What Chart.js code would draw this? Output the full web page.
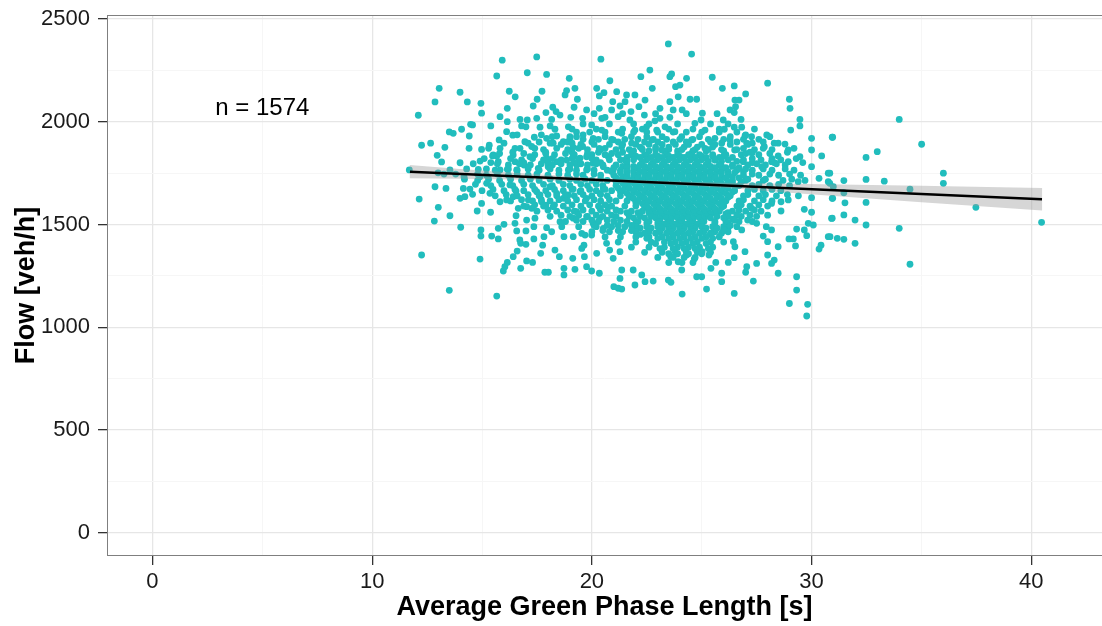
<!DOCTYPE html>
<html><head><meta charset="utf-8">
<script src="https://cdn.jsdelivr.net/npm/chart.js@4.4.1/dist/chart.umd.min.js"></script>
<style>html,body{margin:0;padding:0;background:#fff;}canvas{display:block;}</style>
</head><body>
<canvas id="c" width="1102" height="626"></canvas>
<script>
// ---------- data ----------
const xTickValues = [0,5,10,15,20,25,30,35,40];
const yTickValues = [0,250,500,750,1000,1250,1500,1750,2000,2250,2500];
const xTitle = 'Average Green Phase Length [s]';
const yTitle = 'Flow [veh/h]';
const nLabel = 'n = 1574';
const nLabelGreen = 5;
const nLabelFlow = 2065;

// individually read points [green, flow]
const loosePoints = [
[11.69,1766],[12.10,2032],[12.25,1886],[12.66,1896],[12.86,2097],[13.05,2163],[12.96,1837],[13.16,1805],[13.31,1876],[13.51,1951],[13.69,1944],[14.0,2144],[14.07,1964],[14.33,2097],[14.42,1931],[14.41,1871],[14.48,1988],[14.57,1985],[14.0,1801],[14.95,2090],[14.98,2042],[14.91,1809],[14.98,1866],[15.33,1886],[15.67,2223],[15.92,2300],[15.82,2025],[15.78,1912],[15.67,1834],[16.15,2066],[16.24,2149],[16.51,2122],[16.15,2001],[16.12,1952],[16.40,1935],[16.73,2012],[17.06,2239],[17.49,2316],[17.94,2231],[17.73,2149],[17.51,2110],[17.33,2077],[17.06,2009],[17.0,1976],[17.49,2017],[17.64,1974],[17.91,2045],[17.38,1925],[16.95,1903],[16.73,1871],[16.42,1839],[15.82,1871],[15.51,1839],[18.22,2071],[18.32,1964],[17.94,1920],[18.24,1896],[18.40,1931],[18.55,2033],[18.78,2131],[18.85,2152],[18.97,2212],[19.23,2163],[19.34,2110],[19.19,2071],[19.04,2022],[18.93,1976],[19.0,1928],[18.70,1903],[19.15,1876],[19.58,2017],[19.76,2058],[19.58,1880],[19.46,1823],[19.99,1985],[20.22,2163],[20.41,2305],[20.34,2126],[20.34,2066],[20.55,2142],[20.82,2200],[20.95,2098],[20.45,2017],[20.60,2022],[20.90,2058],[20.45,1960],[20.06,1920],[20.34,1871],[20.97,1912],[18.17,2012],[18.37,2050],[16.50,1806],
[13.0,1752],[13.27,1746],[13.54,1766],[14.18,1733],[14.83,1769],[14.9,1733],[15.48,1834],[15.74,1806],[15.82,1766],[16.15,1769],[16.58,1766],[16.91,1790],[17.18,1830],[17.56,1774],[18.01,1782],[18.40,1806],[18.85,1814],[18.93,1766],[19.31,1790],[19.76,1766],[20.06,1798],[20.52,1782],[20.97,1766],[20.75,1830],[19.76,1830],[19.15,1830],[17.26,1880],[17.94,1823],
[12.86,1684],[13.36,1676],[12.14,1624],[13.01,1584],[12.83,1517],[13.54,1543],[14.03,1487],[14.0,1628],[14.22,1636],[14.15,1676],[14.45,1673],[14.57,1647],[14.98,1603],[14.78,1566],[14.95,1474],[14.95,1444],[12.25,1352],[14.91,1332],[13.51,1180],[15.67,1152],[15.21,1701],[15.36,1652],[15.39,1560],[15.44,1444],[15.74,1430],[15.74,1482],[16.0,1501],[15.82,1611],[16.12,1620],[16.42,1636],[16.27,1693],[16.65,1579],[16.55,1543],[16.50,1506],[16.58,1469],[16.72,1425],[16.76,1409],[17.0,1404],[16.60,1371],[16.42,1344],[16.15,1316],[16.04,1295],[15.97,1274],[16.76,1287],[17.03,1323],[17.30,1316],[17.03,1587],[17.11,1620],[17.26,1579],[17.03,1522],[17.0,1469],[17.41,1531],[17.36,1490],[17.36,1430],[17.49,1660],[17.64,1644],[17.82,1441],[17.76,1400],[17.67,1360],[17.86,1268],[18.02,1268],[17.91,1595],[18.24,1587],[17.94,1485],[18.17,1465],[18.32,1376],[18.52,1344],[18.73,1287],[18.73,1255],[18.40,1652],[18.70,1628],[18.93,1644],[18.55,1514],[18.63,1490],[18.73,1441],[19.15,1441],[19.13,1336],[19.23,1282],[19.64,1400],[19.54,1384],[19.66,1344],[19.76,1295],[19.99,1274],[20.34,1263],[19.15,1531],[19.31,1563],[19.76,1538],[19.54,1457],[19.69,1449],[19.99,1449],[20.06,1506],[20.37,1533],[20.52,1482],[20.67,1409],[20.81,1376],[20.97,1336],[21.0,1198],[21.20,1190],[20.22,1360],[20.37,1579],[19.76,1628],[19.46,1660],[20.37,1652],[20.75,1587],[20.52,1676],[17.71,1611],[16.55,1663],[18.09,1684],[19.15,1673],
[23.48,2379],[24.54,2330],[22.23,2220],[22.64,2252],[22.75,2163],[23.55,2220],[23.63,2233],[24.31,2212],[23.81,2171],[24.01,2179],[25.48,2217],[25.94,2163],[26.48,2175],[27.0,2136],[28.0,2188],[28.99,2110],[29.02,2066],[29.47,2012],[29.47,1980],[29.05,1960],[30.0,1920],[30.94,1925],[30.0,1863],[30.46,1834],[30.76,1750],[29.47,1830],[28.94,1863],[28.48,1834],[28.94,1806],[28.18,1806],[27.96,1936],[27.85,1879],[28.48,1896],[28.79,1892],[27.73,1782],[27.30,1850],[27.05,1896],[27.27,1928],[26.97,1931],[26.51,2106],[26.70,2106],[26.54,2074],[26.29,2058],[26.48,2045],[26.79,2012],[26.82,1974],[26.48,1974],[25.98,2009],[26.03,1964],[25.03,2042],[24.97,2009],[24.77,2110],[24.47,2110],[24.11,2058],[23.93,2122],[23.55,2098],[23.70,2058],[23.55,2022],[23.10,2066],[23.10,2017],[22.87,2005],[23.33,1976],[22.42,2106],[22.39,2033],[22.14,2074],[21.96,2131],[21.78,2050],[21.73,2009],[21.51,2098],[21.58,2131],[21.28,2077],[21.13,2147],[21.20,2025],[21.36,1944],[21.96,1960],[22.49,1976],[22.72,1912],[22.95,1960],[23.78,1952],[24.09,1928],[24.54,1912],[25.15,1960],[24.69,1993],[25.60,1920],[25.91,1896],[26.29,1912],[26.50,1863],[26.89,1806],[25.60,1814],[25.15,1871],[24.54,1847],[23.18,1863],[22.27,1871],[21.81,1896],[21.36,1879],[21.51,1814],[30.0,1782],
[21.28,1368],[21.36,1279],[21.28,1238],[21.36,1186],[21.88,1279],[21.96,1206],[22.27,1255],[22.42,1222],[22.79,1225],[23.48,1230],[23.60,1219],[24.11,1162],[24.09,1279],[23.59,1344],[23.93,1319],[24.31,1352],[24.66,1332],[24.77,1246],[25.0,1246],[25.02,1368],[25.33,1352],[25.22,1186],[25.42,1287],[25.64,1316],[25.91,1263],[25.91,1222],[26.21,1316],[26.48,1339],[26.48,1165],[26.51,1392],[26.97,1368],[27.05,1295],[27.0,1268],[27.35,1225],[27.50,1311],[28.0,1352],[28.18,1311],[28.30,1327],[28.48,1263],[28.48,1392],[28.0,1417],[27.80,1444],[27.94,1490],[28.18,1474],[28.0,1546],[28.61,1611],[28.61,1566],[28.97,1430],[29.17,1430],[29.27,1396],[29.32,1478],[29.32,1246],[29.32,1181],[28.99,1116],[29.82,1112],[29.78,1055],[29.67,1574],[30.0,1560],[30.0,1631],[29.85,1506],[30.08,1498],[29.67,1474],[29.78,1446],[30.34,1381],[30.43,1400],[30.76,1441],[30.94,1531],[30.94,1628],[30.34,1725],[30.76,1709],[29.39,1709],[28.94,1620],[28.18,1603],[27.27,1579],[27.09,1522],[27.50,1506],[26.82,1474],[26.44,1417],
[30.96,1925],[33.99,2012],[35.01,1891],[32.99,1855],[32.48,1827],[30.83,1750],[31.47,1714],[32.48,1720],[33.31,1711],[36.0,1750],[36.0,1701],[34.48,1672],[30.83,1701],[30.99,1684],[31.47,1655],[30.96,1628],[31.52,1606],[32.48,1608],[37.48,1584],[40.47,1511],[30.91,1530],[31.47,1547],[31.98,1522],[32.48,1498],[33.99,1482],[30.84,1441],[31.17,1433],[31.47,1428],[31.98,1409],[34.48,1307]
];

// dense part of the cloud, read row by row: flow level of each row and the green values on it
const denseRowFlow = [2040,1990,1965,1950,1928,1915,1902,1890,1877,1865,1858,1852,1840,1833,1827,1815,1808,1802,1790,1783,1777,1765,1758,1752,1740,1733,1727,1715,1708,1702,1690,1683,1677,1665,1658,1652,1640,1633,1627,1615,1608,1602,1590,1583,1577,1565,1558,1552,1540,1533,1527,1515,1508,1502,1490,1483,1477,1465,1458,1452,1440,1433,1415,1408,1390,1383,1365,1358,1340,1315];
const denseRowGreen = [
[20.1,21.4,22.9,24.3,25.7],
[19.6,20.8,21.9,22.6,23.9,25.4,26.2],
[19.1,20.2,21.4,22.3,23.5,24.6,25.8,27.4],
[19.3,19.9,20.6,21.2,21.9,22.5,23.0,23.7,24.3,25.0,25.8,26.6],
[18.2,19.3,20.6,21.8,22.5,23.2,24.9,26.3,28.1],
[19.0,19.6,20.3,20.9,21.5,22.1,22.8,23.4,24.0,24.6,25.3,26.0,26.9,27.6],
[17.6,18.9,20.0,21.2,22.4,23.0,23.7,24.3,25.4,26.6,27.8],
[18.6,19.5,20.1,20.8,21.4,22.0,22.6,23.2,23.8,24.4,25.0,25.6,26.3,27.1],
[22.2,22.9,23.5,24.2,24.8,25.5],
[17.8,18.9,19.8,20.4,21.1,21.7,22.3,22.9,23.5,24.1,24.7,25.3,25.9,26.6,27.4,28.2],
[21.9,22.6,23.3,23.9,24.6,25.2,26.0],
[16.4,17.9,19.1,20.3,21.4,27.2,28.9],
[17.4,18.3,19.2,20.0,20.6,21.2,21.8,22.4,22.9,23.4,23.9,24.4,24.9,25.5,26.1,26.8,27.6],
[22.0,22.5,23.0,23.5,24.0,24.5,25.0,25.5,26.0],
[21.6,22.2,22.7,23.2,23.7,24.2,24.7,25.2,25.8,26.4],
[16.8,17.8,18.6,19.4,20.2,20.8,21.3,21.9,22.5,23.0,23.5,24.0,24.5,25.0,25.6,26.2,26.9,27.7,28.6],
[21.6,22.3,22.8,23.3,23.8,24.3,24.8,25.3,25.9,26.6],
[15.4,16.9,18.0,19.2,20.4,27.3,28.3,29.6],
[16.2,17.2,18.2,19.0,19.8,20.5,21.1,21.6,22.2,22.7,23.2,23.7,24.2,24.7,25.2,25.8,26.4,27.1,27.9,28.8],
[21.4,21.9,22.4,22.9,23.4,23.9,24.4,24.9,25.4,25.9,26.4],
[21.0,21.6,22.1,22.6,23.1,23.6,24.1,24.6,25.1,25.6,26.1,26.7],
[15.6,16.6,17.6,18.5,19.3,20.1,20.7,21.3,21.9,22.4,22.9,23.4,23.9,24.4,24.9,25.4,25.9,26.6,27.3,28.2,29.2],
[20.9,21.6,22.2,22.7,23.2,23.7,24.2,24.7,25.2,25.7,26.2,26.9],
[21.3,21.9,22.4,22.9,23.4,23.9,24.4,24.9,25.4,25.9,26.5],
[15.2,16.2,17.1,18.0,18.9,19.6,20.4,21.0,21.6,22.1,22.6,23.1,23.6,24.1,24.6,25.1,25.6,26.2,26.9,27.6,28.5,29.5],
[21.4,21.9,22.4,22.9,23.4,23.9,24.4,24.9,25.4,25.9,26.4],
[21.1,21.6,22.1,22.6,23.1,23.6,24.1,24.6,25.1,25.6,26.1,26.7],
[14.8,15.8,16.8,17.6,18.5,19.3,20.0,20.7,21.3,21.8,22.3,22.8,23.3,23.8,24.3,24.8,25.3,25.8,26.4,27.0,27.8,28.7,29.7],
[21.1,21.7,22.2,22.7,23.2,23.7,24.2,24.7,25.2,25.7,26.2,26.8],
[21.4,21.9,22.4,22.9,23.4,23.9,24.4,24.9,25.4,25.9,26.4],
[15.4,16.4,17.3,18.2,19.0,19.8,20.5,21.1,21.6,22.1,22.6,23.1,23.6,24.1,24.6,25.1,25.6,26.1,26.7,27.3,28.1,29.0],
[21.5,22.0,22.5,23.0,23.5,24.0,24.5,25.0,25.5,26.0,26.5],
[21.2,21.7,22.2,22.7,23.2,23.7,24.2,24.7,25.2,25.7,26.2],
[15.0,16.0,16.9,17.9,18.7,19.5,20.2,20.9,21.4,21.9,22.4,22.9,23.4,23.9,24.4,24.9,25.4,25.9,26.5,27.1,27.8,28.6],
[21.3,21.9,22.4,22.9,23.4,23.9,24.4,24.9,25.4,25.9,26.4],
[21.6,22.1,22.6,23.1,23.6,24.1,24.6,25.1,25.6,26.1],
[15.6,16.6,17.6,18.4,19.2,20.0,20.7,21.3,21.8,22.3,22.8,23.3,23.8,24.3,24.8,25.3,25.8,26.3,26.9,27.6,28.4,29.4],
[21.7,22.2,22.7,23.2,23.7,24.2,24.7,25.2,25.7,26.2],
[21.9,22.4,22.9,23.4,23.9,24.4,24.9,25.4,25.9],
[16.3,17.3,18.1,18.9,19.7,20.4,21.1,21.6,22.1,22.6,23.1,23.6,24.1,24.6,25.1,25.6,26.1,26.7,27.4,28.2],
[22.0,22.5,23.0,23.5,24.0,24.5,25.0,25.5,26.0],
[22.3,22.8,23.3,23.8,24.3,24.8,25.3,25.8],
[16.9,17.8,18.7,19.5,20.3,20.9,21.5,22.0,22.5,23.0,23.5,24.0,24.5,25.0,25.5,26.0,26.6,27.2,28.0],
[22.4,22.9,23.4,23.9,24.4,24.9,25.4,25.9],
[22.6,23.1,23.6,24.1,24.6,25.1,25.6],
[17.5,18.4,19.2,20.0,20.7,21.3,21.8,22.3,22.8,23.3,23.8,24.3,24.8,25.3,25.8,26.4,27.0,27.7],
[21.6,22.1,22.6,23.1,23.6,24.1,24.6,25.1,25.6,26.2],
[22.9,23.4,23.9,24.4,24.9,25.4,26.1],
[18.1,19.0,19.8,20.5,21.1,21.7,22.2,22.7,23.2,23.7,24.2,24.7,25.2,25.7,26.2,26.8,27.5],
[21.9,22.4,22.9,23.4,23.9,24.4,24.9,25.4,26.0],
[23.1,23.6,24.1,24.6,25.1,26.4],
[18.8,19.6,20.3,21.0,21.6,22.1,22.6,23.1,23.6,24.1,24.6,25.1,25.6,26.1,26.7,27.3],
[22.0,22.5,23.0,23.5,24.0,24.5,25.0,25.6,26.2],
[23.3,23.8,24.3,24.8],
[19.4,20.2,20.9,21.5,22.0,22.5,23.0,23.5,24.0,24.5,25.0,25.5,26.0,26.6],
[22.2,22.7,23.2,23.7,24.2,24.7,25.2,25.7,26.2],
[22.0,23.5,24.0,24.5,26.0],
[20.0,20.8,21.4,22.0,22.6,23.1,23.6,24.1,24.6,25.1,25.6,26.2],
[22.4,22.9,23.4,23.9,24.4,24.9,25.4,25.9],
[22.2,23.7,24.2,25.4],
[20.6,21.3,22.0,22.6,23.2,23.7,24.2,24.7,25.2,25.8],
[22.5,23.0,23.5,24.0,24.5,25.0,25.5],
[21.2,22.0,22.7,23.3,23.8,24.3,24.8,25.4,26.0],
[22.9,23.6,24.1,24.6,25.2],
[21.8,22.6,23.3,23.9,24.4,24.9,25.5],
[23.1,23.7,24.2,24.7,25.3],
[22.4,23.2,23.8,24.3,24.8,25.4],
[23.5,23.9,24.4,25.0],
[23.0,23.7,24.2,24.7],
[23.5,24.1,24.6]
];

// flanks of the cloud (left and right of the core), read row by row
const flankRowFlow = [1980,1937,1896,1871,1846,1821,1796,1771,1746,1721,1696,1671,1646,1621,1596,1571,1546,1521,1496,1471];
const flankRowGreen = [
[15.4,16.8,18.1],
[16.6,17.7,19.6,27.0],
[16.0,17.1,18.1,19.1,27.3,28.3],
[15.3,16.5,17.4,18.4,19.4,20.6,26.9,27.8,29.2],
[15.8,16.9,17.9,18.8,19.8,20.9,27.0,28.1],
[15.1,16.3,17.3,18.2,19.1,20.0,27.3,28.2,29.3],
[14.6,15.7,16.7,17.7,18.6,19.5,20.2,27.5,28.4],
[14.3,15.2,16.2,17.1,18.1,19.0,19.8,27.0,27.8,28.8],
[13.8,14.8,15.7,16.6,17.5,18.5,19.3,20.1,27.3,28.1,29.0],
[14.2,15.3,16.3,17.2,18.1,19.0,19.7,20.4,27.1,27.9,29.1],
[14.7,15.9,16.9,17.8,18.7,19.5,20.2,27.6,28.5],
[15.5,16.5,17.4,18.3,19.1,19.9,20.6,27.4,28.2],
[16.1,17.1,18.0,18.8,19.6,20.4,27.1,27.9,28.9],
[16.8,17.7,18.5,19.3,20.1,20.8,26.9,27.8],
[17.4,18.3,19.1,19.9,20.6,26.8,27.6],
[18.0,18.9,19.6,20.4,21.1,26.7,27.4],
[18.6,19.4,20.2,20.9,26.6,27.2],
[19.3,20.0,20.7,21.3,26.5],
[20.1,20.7,21.2,21.8,26.3],
[20.5,21.2,21.8,26.0]
];

// linear fit and its confidence band
const fitGreen = [11.72, 40.49];
const fitFlow = [1757, 1623];
const bandGreen = [11.7, 14, 17, 20, 23, 26, 29, 32, 35, 38, 40.5];
const bandUpper = [1790, 1771, 1748, 1728, 1712, 1703, 1699, 1694, 1689, 1683, 1678];
const bandLower = [1726, 1723, 1718, 1710, 1698, 1679, 1655, 1632, 1609, 1587, 1568];

// ---------- build ----------
const FONT = "'Liberation Sans', Arial, Helvetica, sans-serif";
const pointData = loosePoints.map(p => ({x: p[0], y: p[1]}));
denseRowFlow.forEach((f, i) => denseRowGreen[i].forEach(g => pointData.push({x: g, y: f})));
flankRowFlow.forEach((f, i) => flankRowGreen[i].forEach(g => pointData.push({x: g, y: f})));
const fitData = fitGreen.map((g, i) => ({x: g, y: fitFlow[i]}));
const upperData = bandGreen.map((g, i) => ({x: g, y: bandUpper[i]}));
const lowerData = bandGreen.map((g, i) => ({x: g, y: bandLower[i]}));

const panelPlugin = {
  id: 'panel',
  afterDatasetsDraw(chart) {
    const {ctx, chartArea: a, scales} = chart;
    ctx.save();
    ctx.strokeStyle = '#7f7f7f';
    ctx.lineWidth = 1;
    ctx.strokeRect(a.left + 0.5, a.top + 0.5, a.right - a.left + 4, a.bottom - a.top - 1);
    ctx.fillStyle = '#000';
    ctx.font = '24px ' + FONT;
    ctx.textAlign = 'center';
    ctx.textBaseline = 'middle';
    ctx.fillText(nLabel, scales.x.getPixelForValue(nLabelGreen), scales.y.getPixelForValue(nLabelFlow));
    ctx.restore();
  }
};

const majorGrid = '#e6e6e6', minorGrid = '#f6f6f6';

new Chart(document.getElementById('c'), {
  type: 'scatter',
  data: {
    datasets: [
      {data: fitData, showLine: true, borderColor: '#000', borderWidth: 2.6, pointRadius: 0, tension: 0, fill: false},
      {data: upperData, showLine: true, borderWidth: 0, borderColor: 'rgba(0,0,0,0)', pointRadius: 0, tension: 0, fill: false},
      {data: lowerData, showLine: true, borderWidth: 0, borderColor: 'rgba(0,0,0,0)', pointRadius: 0, tension: 0, fill: '-1', backgroundColor: 'rgba(153,153,153,0.4)'},
      {data: pointData, pointRadius: 3.4, pointHoverRadius: 3.4, backgroundColor: '#21BDBD', borderWidth: 0, pointBorderWidth: 0}
    ]
  },
  options: {
    responsive: false,
    animation: false,
    devicePixelRatio: 1,
    events: [],
    layout: {autoPadding: false, padding: {top: 15, right: 0, left: 0, bottom: 0}},
    plugins: {legend: {display: false}, tooltip: {enabled: false}},
    scales: {
      x: {
        type: 'linear', min: -2.07, max: 43.22,
        afterBuildTicks: s => { s.ticks = xTickValues.map(v => ({value: v})); },
        afterFit: s => { s.height = 70; s.paddingLeft = 0; s.paddingRight = 0; },
        border: {display: false},
        grid: {
          color: c => (c.tick && c.tick.value % 10 === 0) ? majorGrid : minorGrid,
          lineWidth: c => (c.tick && c.tick.value % 10 === 0) ? 1.3 : 1,
          tickColor: c => (c.tick && c.tick.value % 10 === 0) ? '#333' : 'rgba(0,0,0,0)',
          tickLength: 9, drawTicks: true
        },
        ticks: {
          autoSkip: false, maxRotation: 0, padding: 4, color: '#1a1a1a',
          font: {family: FONT, size: 22},
          callback: v => (v % 10 === 0 ? String(v) : '')
        },
        title: {display: true, text: xTitle, color: '#000', font: {family: FONT, size: 27, weight: 'bold'}, padding: {top: 0, bottom: 2}}
      },
      y: {
        type: 'linear', min: -113, max: 2520,
        afterBuildTicks: s => { s.ticks = yTickValues.map(v => ({value: v})); },
        afterFit: s => { s.width = 107; s.paddingTop = 0; s.paddingBottom = 0; },
        border: {display: false},
        grid: {
          color: c => (c.tick && c.tick.value % 500 === 0) ? majorGrid : minorGrid,
          lineWidth: c => (c.tick && c.tick.value % 500 === 0) ? 1.3 : 1,
          tickColor: c => (c.tick && c.tick.value % 500 === 0) ? '#333' : 'rgba(0,0,0,0)',
          tickLength: 9, drawTicks: true
        },
        ticks: {
          autoSkip: false, padding: 8, color: '#1a1a1a',
          font: {family: FONT, size: 22},
          callback: v => (v % 500 === 0 ? String(v) : '')
        },
        title: {display: true, text: yTitle, color: '#000', font: {family: FONT, size: 27, weight: 'bold'}, padding: {top: 10, bottom: 0}}
      }
    }
  },
  plugins: [panelPlugin]
});
</script>
</body></html>
